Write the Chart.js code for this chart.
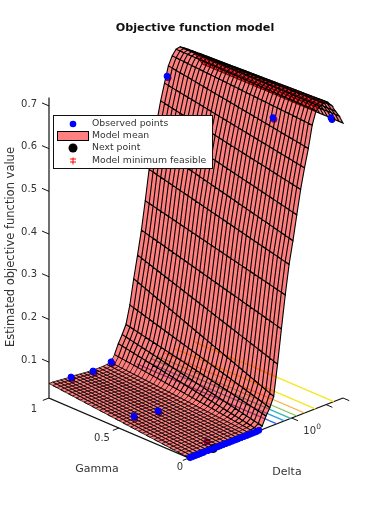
<!DOCTYPE html>
<html>
<head>
<meta charset="utf-8">
<title>Objective function model</title>
<script src="https://cdn.jsdelivr.net/npm/chart.js@4/dist/chart.umd.min.js"></script>
<style>
  html, body { margin: 0; padding: 0; background: #fff; }
  canvas { display: block; }
</style>
</head>
<body>
<canvas id="chart" width="377" height="512"></canvas>
<script>
// surface grid, log10(Delta) along one side and Gamma along the other
const logDelta = [-2, -1.925, -1.85, -1.775, -1.7, -1.625, -1.55, -1.475, -1.4, -1.325, -1.25, -1.175, -1.1, -1.025,
  -0.95, -0.875, -0.8, -0.725, -0.65, -0.575, -0.5, -0.425, -0.35, -0.275, -0.2, -0.125, -0.05, 0.025, 0.1, 0.175,
  0.25, 0.325, 0.4, 0.475, 0.55, 0.625, 0.7, 0.775, 0.85, 0.925, 1];
const gammaGrid = [0, 0.028, 0.056, 0.083, 0.111, 0.139, 0.167, 0.194, 0.222, 0.25, 0.278, 0.306, 0.333, 0.361, 0.389,
  0.417, 0.444, 0.472, 0.5, 0.528, 0.556, 0.583, 0.611, 0.639, 0.667, 0.694, 0.722, 0.75, 0.778, 0.806, 0.833, 0.861,
  0.889, 0.917, 0.944, 0.972, 1];

// model mean read along the two edges of the sheet, one value per logDelta
const meanAtGamma0 = [0.016, 0.016, 0.016, 0.016, 0.016, 0.016, 0.016, 0.016, 0.016, 0.016, 0.016, 0.016, 0.016, 0.016,
  0.016, 0.016, 0.017, 0.017, 0.018, 0.024, 0.044, 0.06, 0.083, 0.155, 0.234, 0.31, 0.378, 0.43, 0.487, 0.543,
  0.59, 0.632, 0.683, 0.713, 0.72, 0.724, 0.723, 0.712, 0.695, 0.68, 0.66];
const meanAtGamma1 = [0.05, 0.05, 0.049, 0.048, 0.047, 0.046, 0.046, 0.045, 0.044, 0.043, 0.042, 0.042, 0.041, 0.041,
  0.041, 0.042, 0.043, 0.058, 0.08, 0.098, 0.118, 0.16, 0.218, 0.27, 0.325, 0.39, 0.46, 0.515, 0.565, 0.61,
  0.648, 0.685, 0.705, 0.717, 0.719, 0.713, 0.707, 0.698, 0.688, 0.672, 0.657];

// observed samples
const obsGamma = [1, 0.3, 0, 1, 1, 1, 0.5, 0.45,
  0, 0, 0, 0, 0, 0, 0, 0, 0, 0, 0, 0, 0, 0, 0, 0, 0, 0, 0, 0, 0, 0, 0, 0, 0, 0];
const obsLogDelta = [0.3, 0.454, 0.766, -1.571, -1.142, -0.79, -1.71, -1.376,
  -1.98, -1.94, -1.9, -1.86, -1.82, -1.79, -1.75, -1.71, -1.63, -1.57, -1.51, -1.45, -1.4, -1.34, -1.28, -1.22,
  -1.16, -1.1, -1.05, -0.99, -0.93, -0.87, -0.81, -0.75, -0.69, -0.64];
const obsValue = [0.662, 0.656, 0.683, 0.045, 0.039, 0.044, 0.03, 0.034,
  0.016, 0.016, 0.016, 0.016, 0.016, 0.016, 0.016, 0.016, 0.016, 0.016, 0.016, 0.016, 0.016, 0.016, 0.016, 0.016,
  0.016, 0.016, 0.016, 0.016, 0.016, 0.016, 0.016, 0.016, 0.016, 0.017];

const nextPoint = [0, -1.53, 0.016];
const minFeasible = [0.05, -1.513, 0.024];

// floor contours: where they meet the Delta axis, and their colours
const contourLogDelta = [0.82, 0.46, 0.25, 0.1, -0.02, -0.14, -0.29];
const contourColors = ['#f9e51e', '#f9e51e', '#f5b03c', '#82c35a', '#2fb7b4', '#2f9ae0', '#3f63e6'];

const zTicks = [0.1, 0.2, 0.3, 0.4, 0.5, 0.6, 0.7];
const gammaTicks = [0, 0.5, 1];
const deltaTicks = [0, 0.67, 1];
const legendLabels = ['Observed points', 'Model mean', 'Next point', 'Model minimum feasible'];

const FONT = '"DejaVu Sans"';
const TEXT_COLOR = '#333';

// view of the MATLAB axes box, returns a point for the x/y scales
function project(gamma, logD, z) {
  const d = (logD + 2) / 3;
  return {
    x: 189 - 140 * gamma + 154 * d,
    y: 458 - 60 * gamma - 60 * d - 427 * (z - 0.016)
  };
}

function meanAt(i, j) {
  const g = gammaGrid[j];
  return meanAtGamma0[i] * (1 - g) + meanAtGamma1[i] * g;
}

function lineSet(points, color, width) {
  return {
    data: points, showLine: true, borderColor: color, borderWidth: width || 1,
    pointRadius: 0, fill: false
  };
}

function pointSet(points, color, radius, style) {
  return {
    data: points, showLine: false, pointRadius: radius, pointStyle: style || 'circle',
    pointBackgroundColor: color, pointBorderColor: color, pointBorderWidth: 1
  };
}

const datasets = [];  // pushed back to front, reversed below

// box axes and ticks
const zBottom = 0.016, zTop = 0.72;
datasets.push(lineSet([project(1, -2, zTop), project(1, -2, zBottom), project(0, -2, zBottom), project(0, 1, zBottom)], '#111', 1.2));
zTicks.forEach(z => datasets.push(lineSet([project(1, -2, z), project(1.05, -2, z)], '#111')));
gammaTicks.forEach(g => datasets.push(lineSet([project(g, -2, zBottom), project(g, -2.12, zBottom)], '#111')));
deltaTicks.forEach(l => datasets.push(lineSet([project(0, l, zBottom), project(-0.045, l, zBottom)], '#111')));

// contours lie on the floor, the sheet covers most of them
contourLogDelta.forEach((l, k) => {
  datasets.push(lineSet([project(0, l, zBottom), project(1, l, zBottom)], contourColors[k], 1.3));
});

// these sit partly under the sheet and show through it as purple
const obsUnder = obsGamma.slice(0, 8).map((g, k) => project(g, obsLogDelta[k] + 0.02, obsValue[k] - 0.005));
datasets.push(pointSet(obsUnder, '#0000ff', 3));
datasets.push(pointSet([project(minFeasible[0], minFeasible[1], minFeasible[2])], '#0000ff', 3));
datasets.push(pointSet([project(minFeasible[0], minFeasible[1], minFeasible[2])], '#ff0000', 3, 'star'));

// sheet, far strip first so nearer strips paint over it
const FLOOR_ROWS = 17;
for (let i = logDelta.length - 2; i >= 0; i--) {
  const outline = [];
  gammaGrid.forEach((g, j) => outline.push(project(g, logDelta[i], meanAt(i, j))));
  for (let j = gammaGrid.length - 1; j >= 0; j--) {
    outline.push(project(gammaGrid[j], logDelta[i + 1], meanAt(i + 1, j)));
  }
  datasets.push({
    data: outline, showLine: true, borderWidth: 0, borderColor: 'transparent',
    backgroundColor: 'rgba(255,0,0,0.5)', pointRadius: 0, fill: 'shape'
  });

  // mesh: the whole far row once, then zigzag over the columns
  const mesh = [];
  for (let j = gammaGrid.length - 1; j >= 0; j--) {
    mesh.push(project(gammaGrid[j], logDelta[i + 1], meanAt(i + 1, j)));
  }
  gammaGrid.forEach((g, j) => {
    const a = project(g, logDelta[i + 1], meanAt(i + 1, j));
    const b = project(g, logDelta[i], meanAt(i, j));
    if (j % 2 === 0) mesh.push(a, b); else mesh.push(b, a);
  });
  // floor rows are packed tight, thinner lines keep the pink showing
  datasets.push(lineSet(mesh, '#000', i < FLOOR_ROWS ? 0.75 : 1.1));
}
const frontRow = gammaGrid.map((g, j) => project(g, logDelta[0], meanAt(0, j)));
datasets.push(lineSet(frontRow, '#000', 0.75));

// markers
const obsPoints = obsGamma.map((g, k) => project(g, obsLogDelta[k], obsValue[k]));
datasets.push(pointSet([project(nextPoint[0], nextPoint[1], nextPoint[2])], '#000', 4));
datasets.push(pointSet(obsPoints, '#0000ff', 3));

datasets.reverse();  // chart.js paints the last dataset first

function text(ctx, str, x, y, size, opts) {
  const o = opts || {};
  ctx.font = (o.bold ? 'bold ' : '') + size + 'px ' + FONT;
  ctx.fillStyle = o.color || TEXT_COLOR;
  ctx.textAlign = o.align || 'center';
  ctx.textBaseline = 'middle';
  ctx.fillText(str, x, y);
}

// title, tick labels and the legend box
const labelsPlugin = {
  id: 'labels',
  afterDatasetsDraw(chart) {
    const ctx = chart.ctx;
    const sx = chart.scales.x, sy = chart.scales.y;
    const at = (g, l, z) => {
      const p = project(g, l, z);
      return { x: sx.getPixelForValue(p.x), y: sy.getPixelForValue(p.y) };
    };
    ctx.save();

    text(ctx, 'Objective function model', 195, 28, 11.2, { bold: true, color: '#111' });

    zTicks.forEach(z => {
      const p = at(1, -2, z);
      text(ctx, z.toFixed(1), p.x - 12, p.y - 2, 10, { align: 'right' });
    });
    const gammaLabelShift = [[-9, 9], [-17, 10], [-15, 11]];
    gammaTicks.forEach((g, k) => {
      const p = at(g, -2, zBottom);
      text(ctx, String(g), p.x + gammaLabelShift[k][0], p.y + gammaLabelShift[k][1], 10);
    });
    const d0 = at(0, 0, zBottom);
    text(ctx, '10', d0.x + 18, d0.y + 13, 10);
    text(ctx, '0', d0.x + 27, d0.y + 9, 7.5);

    text(ctx, 'Gamma', 97, 469, 11);
    text(ctx, 'Delta', 287, 472, 11);

    ctx.save();
    ctx.translate(11, 247);
    ctx.rotate(-Math.PI / 2);
    text(ctx, 'Estimated objective function value', 0, 0, 11.5);
    ctx.restore();

    // legend box
    ctx.fillStyle = '#fff';
    ctx.fillRect(53.5, 115.5, 159, 53);
    ctx.strokeStyle = '#111';
    ctx.lineWidth = 1;
    ctx.strokeRect(53.5, 115.5, 159, 53);

    const rowY = [124, 136, 148, 161];
    legendLabels.forEach((label, k) => {
      text(ctx, label, 92, rowY[k], 9.3, { align: 'left' });
    });
    ctx.fillStyle = '#0000ff';
    ctx.beginPath(); ctx.arc(73, rowY[0], 3.3, 0, Math.PI * 2); ctx.fill();
    ctx.fillStyle = '#ff8080';
    ctx.fillRect(57.5, 131.5, 31, 9);
    ctx.strokeStyle = '#000';
    ctx.strokeRect(57.5, 131.5, 31, 9);
    ctx.fillStyle = '#000';
    ctx.beginPath(); ctx.arc(73, rowY[2], 4.5, 0, Math.PI * 2); ctx.fill();
    ctx.strokeStyle = '#ff0000';
    ctx.beginPath();
    ctx.moveTo(73, rowY[3] - 3.5); ctx.lineTo(73, rowY[3] + 3.5);
    ctx.moveTo(70, rowY[3] - 2); ctx.lineTo(76, rowY[3] - 2);
    ctx.moveTo(70, rowY[3] + 1); ctx.lineTo(76, rowY[3] + 1);
    ctx.stroke();

    ctx.restore();
  }
};

new Chart(document.getElementById('chart'), {
  type: 'scatter',
  data: { datasets },
  options: {
    responsive: false,
    animation: false,
    layout: { padding: 0, autoPadding: false },
    scales: {
      x: { type: 'linear', min: 0, max: 377, display: false },
      y: { type: 'linear', min: 0, max: 512, reverse: true, display: false }
    },
    plugins: { legend: { display: false }, tooltip: { enabled: false } },
    elements: { line: { tension: 0 } }
  },
  plugins: [labelsPlugin]
});
</script>
</body>
</html>
